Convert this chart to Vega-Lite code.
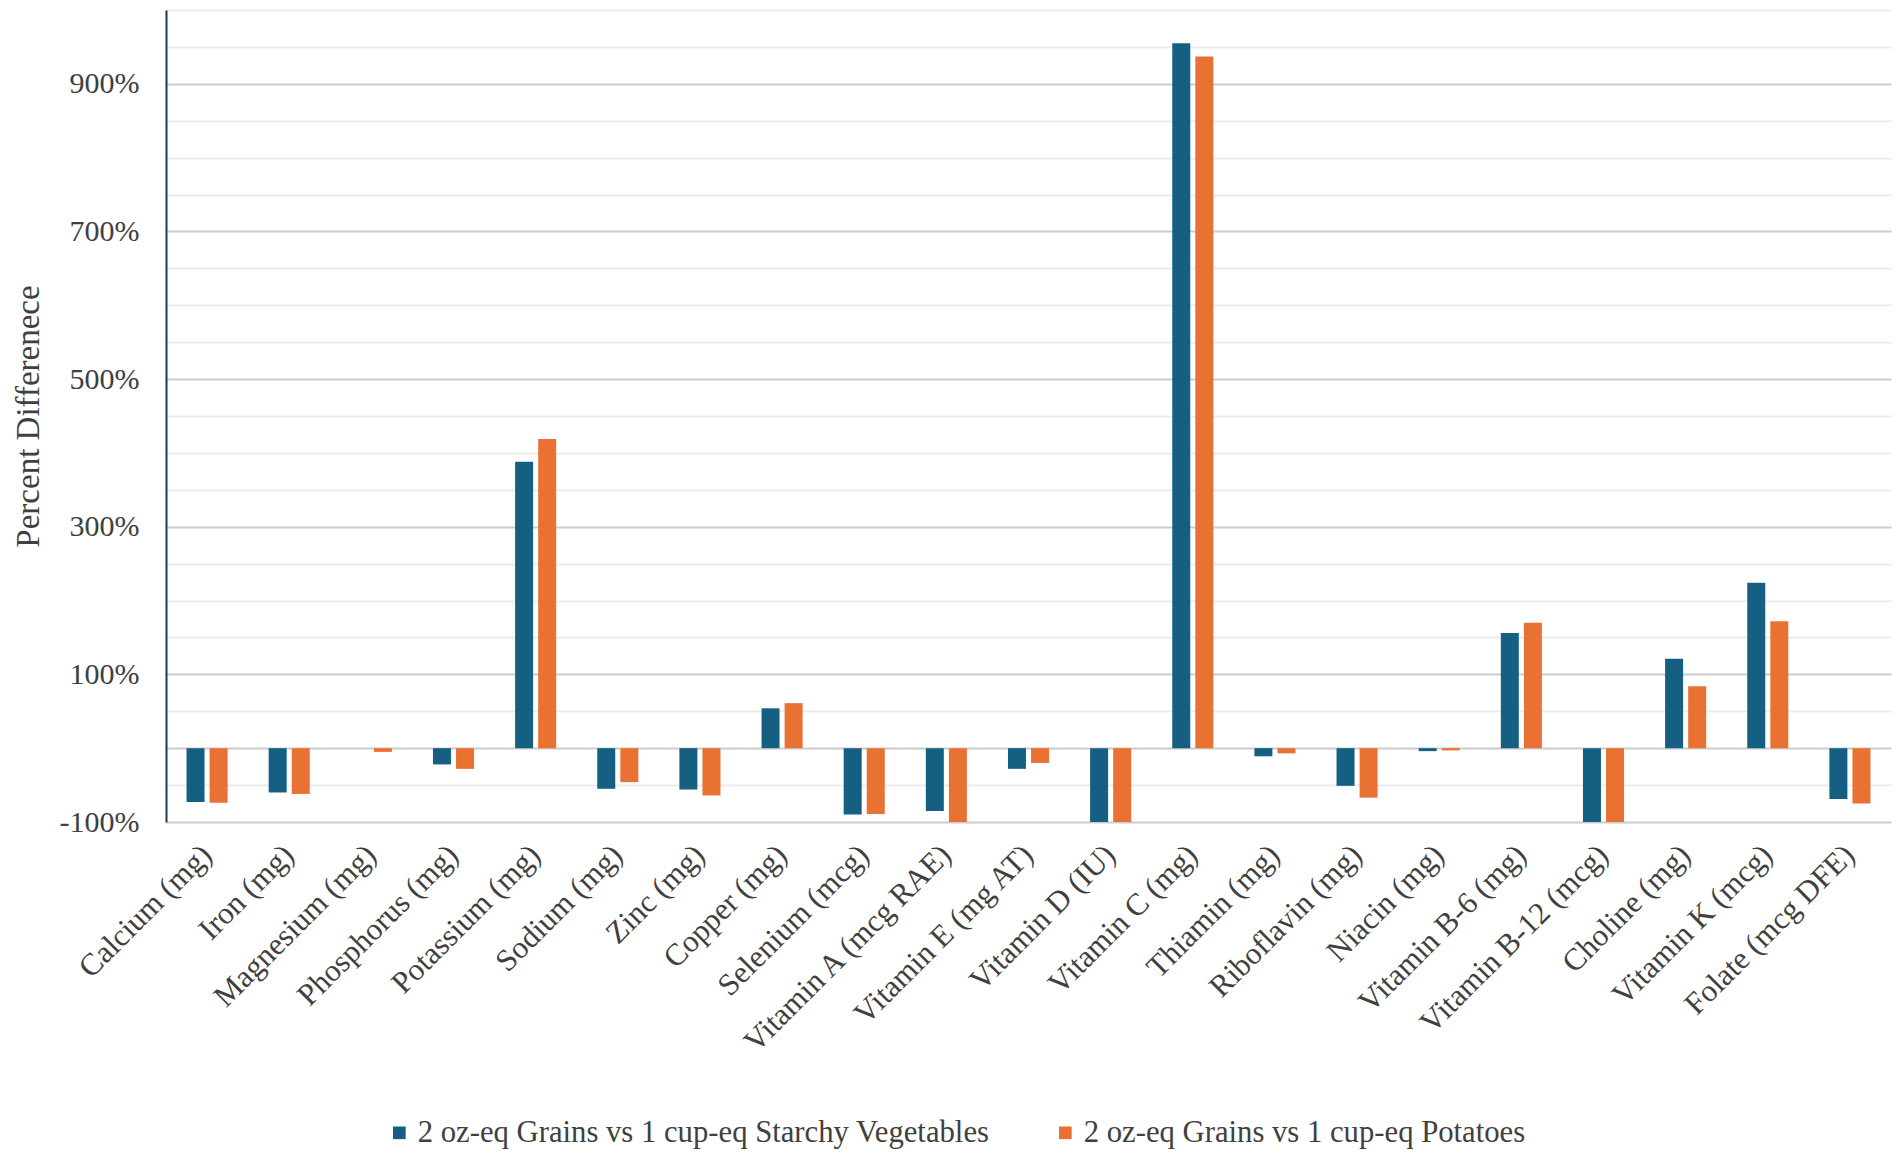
{
  "$schema": "https://vega.github.io/schema/vega-lite/v6.json",
  "autosize": "none",
  "padding": {"left": 166, "top": 10, "right": 11, "bottom": 335},
  "width": 1725,
  "height": 812,
  "background": "white",
  "config": {
    "view": {"stroke": null},
    "font": "Liberation Serif"
  },
  "data": {
    "values": [
      {"nutrient": "Calcium (mg)", "series": "2 oz-eq Grains vs 1 cup-eq Starchy Vegetables", "value": -73},
      {"nutrient": "Calcium (mg)", "series": "2 oz-eq Grains vs 1 cup-eq Potatoes", "value": -74},
      {"nutrient": "Iron (mg)", "series": "2 oz-eq Grains vs 1 cup-eq Starchy Vegetables", "value": -60},
      {"nutrient": "Iron (mg)", "series": "2 oz-eq Grains vs 1 cup-eq Potatoes", "value": -62},
      {"nutrient": "Magnesium (mg)", "series": "2 oz-eq Grains vs 1 cup-eq Starchy Vegetables", "value": 0},
      {"nutrient": "Magnesium (mg)", "series": "2 oz-eq Grains vs 1 cup-eq Potatoes", "value": -5},
      {"nutrient": "Phosphorus (mg)", "series": "2 oz-eq Grains vs 1 cup-eq Starchy Vegetables", "value": -22},
      {"nutrient": "Phosphorus (mg)", "series": "2 oz-eq Grains vs 1 cup-eq Potatoes", "value": -28},
      {"nutrient": "Potassium (mg)", "series": "2 oz-eq Grains vs 1 cup-eq Starchy Vegetables", "value": 388},
      {"nutrient": "Potassium (mg)", "series": "2 oz-eq Grains vs 1 cup-eq Potatoes", "value": 419},
      {"nutrient": "Sodium (mg)", "series": "2 oz-eq Grains vs 1 cup-eq Starchy Vegetables", "value": -55},
      {"nutrient": "Sodium (mg)", "series": "2 oz-eq Grains vs 1 cup-eq Potatoes", "value": -46},
      {"nutrient": "Zinc (mg)", "series": "2 oz-eq Grains vs 1 cup-eq Starchy Vegetables", "value": -56},
      {"nutrient": "Zinc (mg)", "series": "2 oz-eq Grains vs 1 cup-eq Potatoes", "value": -64},
      {"nutrient": "Copper (mg)", "series": "2 oz-eq Grains vs 1 cup-eq Starchy Vegetables", "value": 54},
      {"nutrient": "Copper (mg)", "series": "2 oz-eq Grains vs 1 cup-eq Potatoes", "value": 61},
      {"nutrient": "Selenium (mcg)", "series": "2 oz-eq Grains vs 1 cup-eq Starchy Vegetables", "value": -90},
      {"nutrient": "Selenium (mcg)", "series": "2 oz-eq Grains vs 1 cup-eq Potatoes", "value": -89},
      {"nutrient": "Vitamin A (mcg RAE)", "series": "2 oz-eq Grains vs 1 cup-eq Starchy Vegetables", "value": -85},
      {"nutrient": "Vitamin A (mcg RAE)", "series": "2 oz-eq Grains vs 1 cup-eq Potatoes", "value": -100},
      {"nutrient": "Vitamin E (mg AT)", "series": "2 oz-eq Grains vs 1 cup-eq Starchy Vegetables", "value": -28},
      {"nutrient": "Vitamin E (mg AT)", "series": "2 oz-eq Grains vs 1 cup-eq Potatoes", "value": -20},
      {"nutrient": "Vitamin D (IU)", "series": "2 oz-eq Grains vs 1 cup-eq Starchy Vegetables", "value": -100},
      {"nutrient": "Vitamin D (IU)", "series": "2 oz-eq Grains vs 1 cup-eq Potatoes", "value": -100},
      {"nutrient": "Vitamin C (mg)", "series": "2 oz-eq Grains vs 1 cup-eq Starchy Vegetables", "value": 955},
      {"nutrient": "Vitamin C (mg)", "series": "2 oz-eq Grains vs 1 cup-eq Potatoes", "value": 937},
      {"nutrient": "Thiamin (mg)", "series": "2 oz-eq Grains vs 1 cup-eq Starchy Vegetables", "value": -11},
      {"nutrient": "Thiamin (mg)", "series": "2 oz-eq Grains vs 1 cup-eq Potatoes", "value": -7},
      {"nutrient": "Riboflavin (mg)", "series": "2 oz-eq Grains vs 1 cup-eq Starchy Vegetables", "value": -51},
      {"nutrient": "Riboflavin (mg)", "series": "2 oz-eq Grains vs 1 cup-eq Potatoes", "value": -67},
      {"nutrient": "Niacin (mg)", "series": "2 oz-eq Grains vs 1 cup-eq Starchy Vegetables", "value": -4},
      {"nutrient": "Niacin (mg)", "series": "2 oz-eq Grains vs 1 cup-eq Potatoes", "value": -3},
      {"nutrient": "Vitamin B-6 (mg)", "series": "2 oz-eq Grains vs 1 cup-eq Starchy Vegetables", "value": 156},
      {"nutrient": "Vitamin B-6 (mg)", "series": "2 oz-eq Grains vs 1 cup-eq Potatoes", "value": 170},
      {"nutrient": "Vitamin B-12 (mcg)", "series": "2 oz-eq Grains vs 1 cup-eq Starchy Vegetables", "value": -100},
      {"nutrient": "Vitamin B-12 (mcg)", "series": "2 oz-eq Grains vs 1 cup-eq Potatoes", "value": -100},
      {"nutrient": "Choline (mg)", "series": "2 oz-eq Grains vs 1 cup-eq Starchy Vegetables", "value": 121},
      {"nutrient": "Choline (mg)", "series": "2 oz-eq Grains vs 1 cup-eq Potatoes", "value": 84},
      {"nutrient": "Vitamin K (mcg)", "series": "2 oz-eq Grains vs 1 cup-eq Starchy Vegetables", "value": 224},
      {"nutrient": "Vitamin K (mcg)", "series": "2 oz-eq Grains vs 1 cup-eq Potatoes", "value": 172},
      {"nutrient": "Folate (mcg DFE)", "series": "2 oz-eq Grains vs 1 cup-eq Starchy Vegetables", "value": -69},
      {"nutrient": "Folate (mcg DFE)", "series": "2 oz-eq Grains vs 1 cup-eq Potatoes", "value": -75}
    ]
  },
  "mark": {"type": "bar"},
  "encoding": {
    "x": {
      "field": "nutrient",
      "type": "nominal",
      "sort": null,
      "scale": {"paddingInner": 0.5, "paddingOuter": 0.25},
      "axis": {
        "title": null,
        "domain": false,
        "ticks": false,
        "grid": false,
        "labelAngle": -45,
        "labelAlign": "right",
        "labelBaseline": "middle",
        "labelPadding": 28,
        "labelFont": "Liberation Serif",
        "labelFontSize": 31,
        "labelColor": "#404040",
        "labelLimit": 0
      }
    },
    "xOffset": {
      "field": "series",
      "type": "nominal",
      "sort": null,
      "scale": {"paddingInner": 0.22}
    },
    "y": {
      "field": "value",
      "type": "quantitative",
      "scale": {"domain": [-100, 1000], "nice": false, "zero": false},
      "axis": {
        "title": "Percent Differenece",
        "titleFont": "Liberation Serif",
        "titleFontSize": 33,
        "titleFontWeight": "normal",
        "titleColor": "#404040",
        "titlePadding": 14,
        "values": [-100, -50, 0, 50, 100, 150, 200, 250, 300, 350, 400, 450, 500, 550, 600, 650, 700, 750, 800, 850, 900, 950, 1000],
        "labelExpr": "(datum.value + 100) % 200 === 0 ? datum.value + '%' : ''",
        "labelFont": "Liberation Serif",
        "labelFontSize": 30,
        "labelColor": "#404040",
        "labelPadding": 27,
        "ticks": false,
        "domain": true,
        "domainColor": "#1B3A5C",
        "domainWidth": 2,
        "grid": true,
        "gridColor": {
          "condition": {"test": "datum.value === 0 || (datum.value + 100) % 200 === 0", "value": "#cccccc"},
          "value": "#ebebeb"
        },
        "gridWidth": 2
      }
    },
    "color": {
      "field": "series",
      "type": "nominal",
      "sort": null,
      "scale": {
        "domain": ["2 oz-eq Grains vs 1 cup-eq Starchy Vegetables", "2 oz-eq Grains vs 1 cup-eq Potatoes"],
        "range": ["#156082", "#E97132"]
      },
      "legend": {
        "title": null,
        "orient": "none",
        "direction": "horizontal",
        "legendX": 218,
        "legendY": 1107,
        "symbolType": "square",
        "symbolSize": 160,
        "symbolStrokeWidth": 0,
        "labelFont": "Liberation Serif",
        "labelFontSize": 30.7,
        "labelColor": "#404040",
        "labelOffset": 3,
        "columnPadding": 60,
        "labelLimit": 0
      }
    }
  }
}
